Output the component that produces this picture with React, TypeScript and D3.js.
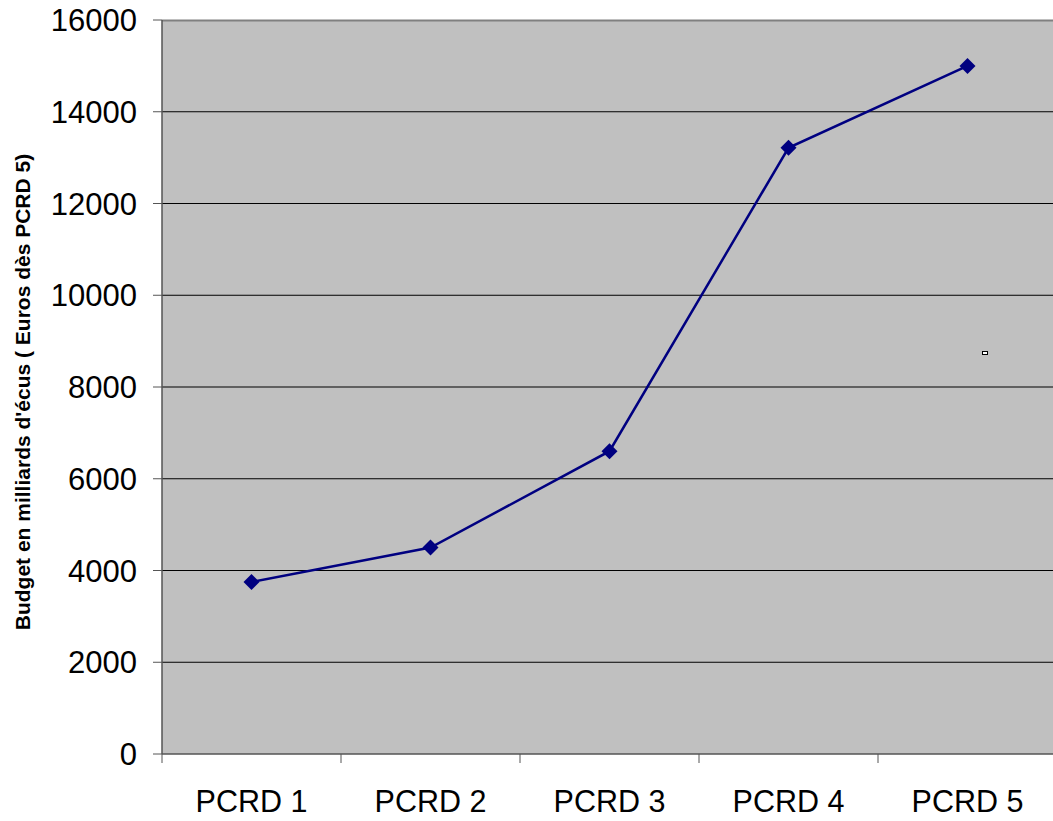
import React from "react";
import * as d3 from "d3";

const categories = ["PCRD 1", "PCRD 2", "PCRD 3", "PCRD 4", "PCRD 5"];
const budget = [3750, 4500, 6600, 13215, 15000];
const yTicks = [0, 2000, 4000, 6000, 8000, 10000, 12000, 14000, 16000];

export default function App() {
  const width = 1053;
  const height = 821;
  const left = 162;
  const top = 20;
  const bottom = 754;
  const right = left + 5 * 179;

  const x = d3.scaleBand().domain(categories).range([left, right]);
  const y = d3.scaleLinear().domain([0, 16000]).range([bottom, top]);

  const line = d3
    .line<number>()
    .x((_, i) => x(categories[i])! + x.bandwidth() / 2)
    .y((d) => y(d));

  const font = "'Liberation Sans', Arial, sans-serif";

  return (
    <svg
      width={width}
      height={height}
      style={{ position: "absolute", left: 0, top: 0 }}
      fontFamily={font}
    >
      <rect x={left} y={top} width={right - left} height={bottom - top} fill="#c0c0c0" />
      {yTicks.slice(1, -1).map((t) => (
        <line key={t} x1={left} x2={right} y1={y(t)} y2={y(t)} stroke="#000" strokeWidth={1} />
      ))}
      <line x1={left} x2={right} y1={top + 0.5} y2={top + 0.5} stroke="#808080" strokeWidth={2} />
      <line x1={left} x2={left} y1={top} y2={bottom} stroke="#555" strokeWidth={1.5} />
      <line x1={left} x2={right} y1={bottom} y2={bottom} stroke="#555" strokeWidth={1.5} />
      {yTicks.map((t) => (
        <g key={t}>
          <line x1={left - 9} x2={left} y1={y(t)} y2={y(t)} stroke="#555" strokeWidth={1} />
          <text x={137} y={y(t)} dy="0.36em" textAnchor="end" fontSize={31} fill="#000">
            {t}
          </text>
        </g>
      ))}
      {categories.map((c) => (
        <g key={c}>
          <line x1={x(c)!} x2={x(c)!} y1={bottom} y2={bottom + 9} stroke="#555" strokeWidth={1} />
          <text
            x={x(c)! + x.bandwidth() / 2}
            y={812}
            textAnchor="middle"
            fontSize={30.5}
            fill="#000"
          >
            {c}
          </text>
        </g>
      ))}
      <path d={line(budget) || ""} fill="none" stroke="#000080" strokeWidth={2.5} />
      {budget.map((v, i) => {
        const cx = x(categories[i])! + x.bandwidth() / 2;
        const cy = y(v);
        return (
          <path
            key={i}
            d={`M${cx},${cy - 8}L${cx + 8},${cy}L${cx},${cy + 8}L${cx - 8},${cy}Z`}
            fill="#000080"
          />
        );
      })}
      <rect x={982.5} y={351.5} width={5} height={3} fill="#fff" stroke="#000" strokeWidth={1} />
      <text
        transform={`translate(30,${392}) rotate(-90)`}
        textAnchor="middle"
        fontSize={21}
        fontWeight="bold"
        fill="#000"
      >
        Budget en milliards d'écus ( Euros dès PCRD 5)
      </text>
    </svg>
  );
}
